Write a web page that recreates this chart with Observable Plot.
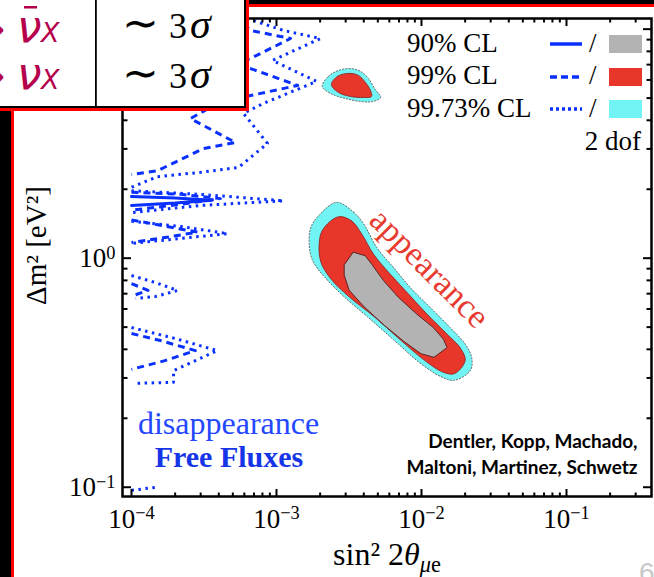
<!DOCTYPE html>
<html><head><meta charset="utf-8">
<script src="https://cdn.jsdelivr.net/npm/d3@7"></script>
<script src="https://cdn.jsdelivr.net/npm/@observablehq/plot@0.6"></script>
<style>
body{margin:0;background:#fff;}
#wrap{position:relative;width:654px;height:577px;overflow:hidden;background:#fff;}
#chart{position:absolute;left:0;top:0;}
.abs{position:absolute;}
</style></head><body>
<div id="wrap">
  <div id="chart"></div>
  <div class="abs" style="left:0;top:0;width:11px;height:577px;background:#000"></div>
  <div class="abs" style="left:11px;top:0;width:3px;height:577px;background:#f00"></div>
  <div class="abs" style="left:0;top:0;width:654px;height:4px;background:#000"></div>
  <div class="abs" style="left:0;top:4px;width:654px;height:2.5px;background:#f00"></div>
  <svg id="legend" class="abs" style="left:0;top:0" width="654" height="577" font-family="'Liberation Serif','Times New Roman',serif"></svg>
  <svg id="table" class="abs" style="left:0;top:0" width="252" height="114"></svg>
</div>
<script>
// ---------- axis limits & ticks ----------
const xLimits = [8.67e-5, 0.3857];
const yLimits = [0.0911, 11.13];
const xMajor = [1e-4, 1e-3, 1e-2, 1e-1];
const yMajor = [1e-1, 1, 10];
const minorMult = [2, 3, 4, 5, 6, 7, 8, 9];
const xMinor = xMajor.flatMap(d => minorMult.map(m => m * d)).filter(v => v < xLimits[1]);
const yMinor = [1e-1, 1].flatMap(d => minorMult.map(m => m * d));

// ---------- appearance regions [sin^2 2θ, Δm^2] ----------
const app9973 = [[2.60e-3,1.753],[3.40e-3,1.588],[3.99e-3,1.412],[4.92e-3,1.113],[6.41e-3,0.911],[8.36e-3,0.745],[1.149e-2,0.609],[1.574e-2,0.498],[2.00e-2,0.422],[2.22e-2,0.368],[2.17e-2,0.323],[1.68e-2,0.293],[1.36e-2,0.304],[9.91e-3,0.346],[6.48e-3,0.438],[4.24e-3,0.555],[2.93e-3,0.678],[2.14e-3,0.829],[1.77e-3,0.980],[1.68e-3,1.159],[1.73e-3,1.368],[1.97e-3,1.542]];
const app99 = [[2.67e-3,1.516],[3.30e-3,1.454],[3.88e-3,1.273],[4.67e-3,1.041],[6.08e-3,0.852],[8.14e-3,0.697],[1.091e-2,0.570],[1.50e-2,0.466],[1.846e-2,0.407],[2.00e-2,0.357],[1.68e-2,0.313],[1.39e-2,0.319],[1.044e-2,0.359],[7.20e-3,0.438],[4.72e-3,0.555],[3.17e-3,0.678],[2.36e-3,0.815],[2.02e-3,0.964],[1.97e-3,1.159],[2.08e-3,1.329]];
const app90 = [[3.40e-3,1.062],[4.09e-3,1.025],[4.54e-3,0.941],[5.48e-3,0.797],[6.94e-3,0.674],[9.28e-3,0.570],[1.206e-2,0.498],[1.416e-2,0.443],[1.50e-2,0.407],[1.22e-2,0.369],[9.91e-3,0.383],[7.60e-3,0.432],[5.53e-3,0.510],[4.02e-3,0.613],[3.17e-3,0.725],[2.93e-3,0.843],[2.93e-3,0.932]];
const app9973Island = [[2.07e-3,5.62],[2.28e-3,6.22],[2.68e-3,6.60],[3.24e-3,6.73],[3.80e-3,6.54],[4.31e-3,6.09],[4.74e-3,5.51],[5.22e-3,5.03],[4.59e-3,4.83],[3.80e-3,4.83],[2.99e-3,4.98],[2.43e-3,5.19]];
const app99Island = [[2.39e-3,5.73],[2.63e-3,6.22],[3.14e-3,6.41],[3.68e-3,6.28],[4.11e-3,5.85],[4.45e-3,5.40],[4.52e-3,5.08],[3.98e-3,5.03],[3.24e-3,5.08],[2.68e-3,5.29]];

// ---------- disappearance (free fluxes) contours ----------
const dis90 = [
  [[1e-4,1.86],[2e-4,1.83],[3.6e-4,1.79],[2e-4,1.74],[1e-4,1.70]]
];
const dis99 = [
  [[5.21e-4,11.5],[6.62e-4,9.87],[1.25e-3,9.10],[6.62e-4,7.45],[4.97e-4,7.01],[6.62e-4,6.73],[1.40e-3,5.68],[6.62e-4,5.13],[3.80e-4,4.69],[2.55e-4,4.07],[5.21e-4,3.20],[3.14e-4,3.01],[1.51e-4,2.41],[1e-4,2.32]],
  [[1e-4,1.94],[2.2e-4,1.90],[4.1e-4,1.82],[2.2e-4,1.72],[1e-4,1.62]],
  [[1e-4,1.47],[1.7e-4,1.38],[2.85e-4,1.30],[1.7e-4,1.23],[1e-4,1.17]],
  [[1e-4,0.775],[1.3e-4,0.723],[1.03e-4,0.687]],
  [[1e-4,0.469],[1.58e-4,0.437],[2.76e-4,0.395],[1.7e-4,0.357],[1e-4,0.327]]
];
const dis9973 = [
  [[5.65e-4,11.5],[6.93e-4,10.9],[1.12e-3,9.87],[2.01e-3,9.10],[9.38e-4,7.30],[1.89e-3,5.91],[8.13e-4,4.74],[5.92e-4,4.29],[8.67e-4,3.17],[5.47e-4,2.49],[2.99e-4,2.37],[1.51e-4,2.27],[1e-4,2.04]],
  [[1e-4,1.97],[3e-4,1.90],[1.12e-3,1.78],[3e-4,1.70],[1e-4,1.58]],
  [[1e-4,1.45],[2.2e-4,1.375],[4.6e-4,1.28],[2.2e-4,1.22],[1e-4,1.16]],
  [[1e-4,0.84],[1.46e-4,0.783],[2.08e-4,0.723],[1.46e-4,0.68],[1.07e-4,0.667]],
  [[1e-4,0.498],[2e-4,0.446],[3.9e-4,0.395],[2.76e-4,0.357],[1.95e-4,0.323],[1.95e-4,0.287],[1.03e-4,0.284]],
  [[1e-4,0.097],[1.5e-4,0.1]]
];

// ---------- annotations ----------
const labelText = ["disappearance", "Free Fluxes", "appearance", "Dentler, Kopp, Machado,", "Maltoni, Martinez, Schwetz"];
const labelX = [4.67e-4, 4.7e-4, 1.135e-2, 0.309, 0.309];
const labelY = [0.19, 0.1348, 0.902, 0.157, 0.121];

const legendLabels = ["90% CL", "99% CL", "99.73% CL"];
const tableRows = [["ν̄", "X", "∼", "3σ"], ["ν", "X", "∼", "3σ"]];

// ---------- colours ----------
const blue = "#0a30ff", cyan = "#72f4f4", red = "#e8362b", gray = "#b3b3b3";
const serif = "'Liberation Serif','Times New Roman',serif";

const rows = segs => segs.flatMap((s, i) => s.map(([x, y]) => ({x, y, seg: i})));
const fmtPow = d => { const e = Math.round(Math.log10(d)); return "10^" + (e < 0 ? "\u2212" + (-e) : e); };

const tickAxes = (size, xt, yt) => [
  Plot.axisX({ticks: xt, anchor: "top", frameAnchor: "bottom", tickSize: size, tickFormat: () => "", label: null, strokeWidth: 2}),
  Plot.axisX({ticks: xt, anchor: "bottom", frameAnchor: "top", tickSize: size, tickFormat: () => "", label: null, strokeWidth: 2}),
  Plot.axisY({ticks: yt, anchor: "right", frameAnchor: "left", tickSize: size, tickFormat: () => "", label: null, strokeWidth: 2}),
  Plot.axisY({ticks: yt, anchor: "left", frameAnchor: "right", tickSize: size, tickFormat: () => "", label: null, strokeWidth: 2})
];

const ann = (i, o) => Plot.text([labelText[i]], {x: () => labelX[i], y: () => labelY[i], text: d => d, fontFamily: serif, ...o});

const plot = Plot.plot({
  width: 654, height: 577,
  marginLeft: 122, marginRight: 3, marginTop: 18, marginBottom: 81,
  style: {fontFamily: serif, fontSize: "27px", color: "black", background: "transparent"},
  x: {type: "log", domain: xLimits},
  y: {type: "log", domain: yLimits},
  marks: [
    Plot.line(app9973, {x: d => d[0], y: d => d[1], curve: "catmull-rom-closed", fill: cyan, stroke: "#666", strokeWidth: 1, strokeDasharray: "1.2,2"}),
    Plot.line(app99, {x: d => d[0], y: d => d[1], curve: "catmull-rom-closed", fill: red, stroke: "#8a2020", strokeWidth: 0.8}),
    Plot.line(app90, {x: d => d[0], y: d => d[1], curve: "linear-closed", fill: gray, stroke: "#5a2626", strokeWidth: 1}),
    Plot.line(app9973Island, {x: d => d[0], y: d => d[1], curve: "catmull-rom-closed", fill: cyan, stroke: "#666", strokeWidth: 1, strokeDasharray: "1.2,2"}),
    Plot.line(app99Island, {x: d => d[0], y: d => d[1], curve: "catmull-rom-closed", fill: red, stroke: "#8a2020", strokeWidth: 0.8}),
    Plot.line(rows(dis9973), {x: "x", y: "y", z: "seg", stroke: blue, strokeWidth: 3, strokeDasharray: "2.5,4.5", strokeLinecap: "butt", clip: true}),
    Plot.line(rows(dis99), {x: "x", y: "y", z: "seg", stroke: blue, strokeWidth: 3, strokeDasharray: "7,5", strokeLinecap: "butt", clip: true}),
    Plot.line(rows(dis90), {x: "x", y: "y", z: "seg", stroke: blue, strokeWidth: 3, clip: true}),
    ann(0, {fill: "#2448ff", fontSize: 32}),
    ann(1, {fill: "#1535e6", fontSize: 30, fontWeight: "bold"}),
    ann(2, {fill: "#e83a2e", fontSize: 34, rotate: 45}),
    ann(3, {fill: "black", fontSize: 19, fontWeight: "bold", fontFamily: "Lato, 'Open Sans', sans-serif", textAnchor: "end"}),
    ann(4, {fill: "black", fontSize: 19, fontWeight: "bold", fontFamily: "Lato, 'Open Sans', sans-serif", textAnchor: "end"}),
    Plot.frame({stroke: "black", strokeWidth: 2.5}),
    ...tickAxes(8, xMajor, yMajor),
    ...tickAxes(4.5, xMinor, yMinor),
    Plot.axisX({ticks: xMajor, anchor: "bottom", tickSize: 0, tickPadding: 12, tickFormat: fmtPow, label: "sin² 2θ_μe", labelAnchor: "center", labelOffset: 68, labelArrow: "none"}),
    Plot.axisY({ticks: yMajor, anchor: "left", tickSize: 0, tickPadding: 7, tickFormat: fmtPow, label: "Δm² [eV²]", labelAnchor: "center", labelOffset: 97, labelArrow: "none"})
  ]
});

plot.querySelectorAll("text").forEach(t => {
  const s = t.textContent;
  const m = s.match(/^10\^(.+)$/);
  if (m) t.innerHTML = `10<tspan dy="-0.45em" font-size="0.68em">${m[1]}</tspan>`;
  else if (s === "sin² 2θ_μe") { t.innerHTML = `sin² 2<tspan font-style="italic">θ</tspan><tspan dy="0.35em" font-size="0.7em"><tspan font-style="italic">μ</tspan>e</tspan>`; t.setAttribute("font-size", 32); }
  else if (s === "Δm² [eV²]") {
    t.setAttribute("font-size", 29);
    const tr = t.getAttribute("transform");
    if (tr) t.setAttribute("transform", tr + " translate(12,0)");
  }
});
document.getElementById("chart").appendChild(plot);

// ---------- legend (inset) ----------
const lg = d3.select("#legend");
const rowBase = [52, 84, 117], rowMid = [44, 77, 109];
const dashes = [null, "7,4", "3,3"];
const fills = [gray, red, cyan];
legendLabels.forEach((s, i) => {
  lg.append("text").attr("x", 407).attr("y", rowBase[i]).attr("font-size", 27).text(s);
  lg.append("line").attr("x1", 550).attr("x2", 582).attr("y1", rowMid[i]).attr("y2", rowMid[i])
    .attr("stroke", blue).attr("stroke-width", 3.5).attr("stroke-dasharray", dashes[i]);
  lg.append("text").attr("x", 589).attr("y", rowBase[i]).attr("font-size", 27).text("/");
  lg.append("rect").attr("x", 609).attr("y", rowMid[i] - 9).attr("width", 33).attr("height", 18).attr("fill", fills[i]);
});
lg.append("text").attr("x", 641).attr("y", 150).attr("font-size", 27).attr("text-anchor", "end").text("2 dof");
lg.append("text").attr("x", 639).attr("y", 582).attr("font-size", 28).attr("font-family", "'Liberation Sans',sans-serif").attr("fill", "#c8c8c8").text("6");

// ---------- table box (top-left) ----------
const tb = d3.select("#table");
tb.append("rect").attr("x", 0).attr("y", 0).attr("width", 249).attr("height", 111).attr("fill", "#f00");
tb.append("rect").attr("x", 0).attr("y", 0).attr("width", 246).attr("height", 108).attr("fill", "#000");
tb.append("rect").attr("x", 0).attr("y", 0).attr("width", 244).attr("height", 106).attr("fill", "#fff");
tb.append("rect").attr("x", 95).attr("y", 0).attr("width", 1.8).attr("height", 106).attr("fill", "#000");
const crimson = "#b5004b";
const baseL = [42, 89], baseR = [38, 88];
tableRows.forEach((r, i) => {
  tb.append("text").attr("x", 5).attr("y", baseL[i]).attr("text-anchor", "end").attr("font-size", 38).attr("fill", crimson).attr("font-family", "'DejaVu Sans',sans-serif").text("→");
  tb.append("text").attr("x", 17).attr("y", baseL[i]).attr("font-size", 44).attr("font-style", "italic").attr("fill", crimson).attr("font-family", "'DejaVu Sans',sans-serif").text("ν");
  if (r[0] === "ν̄") tb.append("rect").attr("x", 24).attr("y", baseL[i] - 36).attr("width", 13).attr("height", 2.5).attr("fill", crimson);
  tb.append("text").attr("x", 41).attr("y", baseL[i]).attr("font-size", 27).attr("font-style", "italic").attr("fill", crimson).attr("font-family", "'DejaVu Sans',sans-serif").text(r[1]);
  tb.append("text").attr("x", 140).attr("y", baseR[i]).attr("text-anchor", "middle").attr("font-size", 44).attr("font-family", serif).text(r[2]);
  tb.append("text").attr("x", 169).attr("y", baseR[i]).attr("font-size", 36).attr("font-family", serif).text(r[3][0]);
  tb.append("text").attr("x", 190).attr("y", baseR[i]).attr("font-size", 42).attr("font-style", "italic").attr("font-family", serif).text(r[3][1]);
});
</script>
</body></html>
